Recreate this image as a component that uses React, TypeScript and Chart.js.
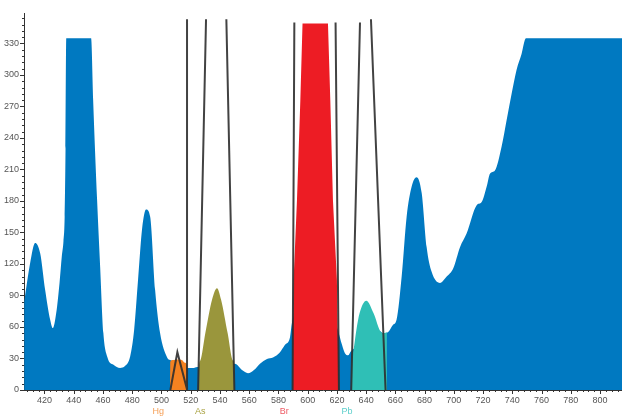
import React, { useEffect, useRef } from "react";
import { Chart, registerables } from "chart.js";

Chart.register(...registerables);

// ---- data (wavelength nm / intensity) ----
const spectrumNm = [406.1, 410.2, 413.6, 417.1, 420.5, 423.9, 425.7, 428.0, 430.3, 431.9, 433.0, 433.8, 434.4, 434.9, 451.9, 453.3, 456.0, 458.1, 460.3, 463.1, 467.2, 471.7, 475.2, 478.6, 481.3, 484.0, 486.8, 489.5, 492.3, 495.7, 499.1, 503.9, 505.9, 509.3, 512.7, 517.5, 521.6, 524.4, 533.3, 543.5, 550.3, 555.1, 559.2, 563.3, 567.4, 572.2, 576.3, 581.1, 584.5, 587.9, 589.3, 605.0, 620.7, 623.5, 625.5, 627.6, 629.6, 640.0, 649.5, 651.5, 654.9, 658.3, 660.8, 664.3, 667.7, 671.1, 674.5, 678.0, 681.4, 684.8, 690.5, 695.1, 699.6, 704.2, 708.7, 715.6, 719.0, 722.4, 724.7, 728.1, 732.7, 736.1, 739.5, 742.9, 746.3, 749.3, 815.0];
const spectrumCounts = [84, 121, 140, 130, 95, 67, 59, 73, 102, 128, 142, 165, 230, 335, 335, 276, 181, 117, 54, 31, 24, 21, 23, 32, 57, 105, 154, 172, 165, 95, 54, 31, 28.5, 27, 24, 21, 21, 22, 22, 22, 25, 19, 16, 19, 25, 29.5, 31, 36, 43, 50, 64, 120, 57, 43, 35, 33, 37, 45, 56, 54, 55, 62, 67, 108, 165, 193.5, 202.5, 187.5, 136, 112.6, 102, 108, 116, 136, 149, 176, 179, 193.5, 206, 209, 232, 257, 282, 305, 320, 335, 335];

const hgNm = [505.9, 506.0, 508.0, 511.0, 514.0, 516.0, 517.5, 517.6];
const hgCounts = [0, 27, 28.5, 29, 28.5, 26, 24, 0];

const asNm = [525.3, 525.5, 526.6, 530.0, 534.6, 538.0, 540.8, 545.3, 549.0, 549.8, 549.9];
const asCounts = [0, 20, 28, 54, 86, 97, 86, 54, 28, 25, 0];

const brNm = [589.5, 590.4, 592.7, 595.0, 596.5, 613.9, 615.5, 617.3, 620.0, 621.2];
const brCounts = [0, 105, 181, 276, 349, 349, 276, 181, 105, 0];

const pbNm = [629.8, 629.9, 631.0, 633.3, 635.5, 640.1, 645.1, 649.7, 652.0, 654.2, 654.3];
const pbCounts = [0, 20, 36, 57, 73, 85, 73, 56, 54, 55, 0];

// filter band edges (null level = break between segments)
const filterNm = [506.1, 510.9, 517.6, 517.6, 517.5, 517.5, 521.0, 525.1, 530.5, 537.0, 544.4, 549.9, 570.0, 589.7, 590.9, 605.0, 619.1, 621.4, 625.0, 629.8, 635.8, 640.0, 643.3, 653.3];
const filterLevel = [0, 36, 0, null, 0, 353, null, 0, 353, null, 353, 0, null, 0, 350, null, 350, 0, null, 0, 350, null, 353, 0];

const elementNames = ["Hg", "As", "Br", "Pb"];
const elementNm = [497.9, 526.6, 584.0, 627.0];
const elementColors = ["#F5A058", "#A9A243", "#EE5A64", "#5CCFCB"];

const xMin = 406;
const xMax = 815;
const yMax = 359;

const pts = (xs: number[], ys: (number | null)[]) => xs.map((x, i) => ({ x, y: ys[i] }));

const tickPlugin = {
  id: "customTicks",
  afterDraw(chart: any) {
    const ctx = chart.ctx;
    const xs = chart.scales.x;
    const ys = chart.scales.y;
    const { left, bottom } = chart.chartArea;
    ctx.save();
    ctx.strokeStyle = "#333";
    ctx.lineWidth = 1;
    ctx.beginPath();
    for (let v = Math.ceil(xMin / 4) * 4; v <= xMax; v += 4) {
      const px = Math.round(xs.getPixelForValue(v)) + 0.5;
      const len = v % 20 === 0 ? 4 : 2;
      ctx.moveTo(px, bottom);
      ctx.lineTo(px, bottom + len);
    }
    for (let v = 0; v <= yMax; v += 6) {
      const py = Math.round(ys.getPixelForValue(v)) + 0.5;
      const len = v % 30 === 0 ? 4 : 2;
      ctx.moveTo(left, py);
      ctx.lineTo(left - len, py);
    }
    ctx.stroke();
    ctx.font = "9px 'Liberation Sans', Arial, sans-serif";
    ctx.textAlign = "center";
    ctx.textBaseline = "middle";
    elementNames.forEach((name, i) => {
      ctx.fillStyle = elementColors[i];
      ctx.fillText(name, xs.getPixelForValue(elementNm[i]), 411.5);
    });
    ctx.restore();
  },
};

export default function App() {
  const ref = useRef<HTMLCanvasElement>(null);
  useEffect(() => {
    if (!ref.current) return;
    const area = (data: any, color: string, order: number, mono = true) => ({
      data,
      backgroundColor: color,
      borderColor: color,
      borderWidth: 0,
      pointRadius: 0,
      fill: "origin",
      cubicInterpolationMode: mono ? "monotone" : "default",
      tension: mono ? 0.4 : 0,
      order,
    });
    const chart = new Chart(ref.current, {
      type: "line",
      data: {
        datasets: [
          {
            data: pts(filterNm, filterLevel),
            borderColor: "rgba(45,45,45,0.9)",
            borderWidth: 2,
            pointRadius: 0,
            fill: false,
            tension: 0,
            spanGaps: false,
            order: 0,
          } as any,
          area(pts(hgNm, hgCounts), "#F58220", 1),
          area(pts(asNm, asCounts), "#9A963C", 1),
          area(pts(brNm, brCounts), "#ED1C24", 1, false),
          area(pts(pbNm, pbCounts), "#2FBFB6", 1),
          area(pts(spectrumNm, spectrumCounts), "#0079C1", 2),
        ],
      },
      plugins: [tickPlugin],
      options: {
        animation: false,
        responsive: false,
        devicePixelRatio: 1,
        parsing: false,
        layout: { padding: { top: 13, right: 0, left: 0, bottom: 0 } },
        plugins: { legend: { display: false }, tooltip: { enabled: false } },
        scales: {
          x: {
            type: "linear",
            min: xMin,
            max: xMax,
            afterFit: (s: any) => {
              s.height = 27;
            },
            grid: { display: false, drawTicks: false },
            border: { display: true, color: "#333", width: 1 },
            ticks: {
              stepSize: 20,
              includeBounds: false,
              padding: 5,
              color: "#555",
              maxRotation: 0,
              autoSkip: false,
              font: { family: "'Liberation Sans', Arial, sans-serif", size: 9 },
            },
          },
          y: {
            type: "linear",
            min: 0,
            max: yMax,
            afterFit: (s: any) => {
              s.width = 24;
            },
            grid: { display: false, drawTicks: false },
            border: { display: true, color: "#333", width: 1 },
            ticks: {
              stepSize: 30,
              includeBounds: false,
              padding: 5,
              color: "#555",
              autoSkip: false,
              font: { family: "'Liberation Sans', Arial, sans-serif", size: 9 },
            },
          },
        },
      } as any,
    });
    return () => chart.destroy();
  }, []);
  return (
    <div style={{ position: "fixed", left: 0, top: 0, width: 622, height: 417, background: "#fff" }}>
      <canvas ref={ref} width={622} height={417} style={{ display: "block" }} />
    </div>
  );
}
